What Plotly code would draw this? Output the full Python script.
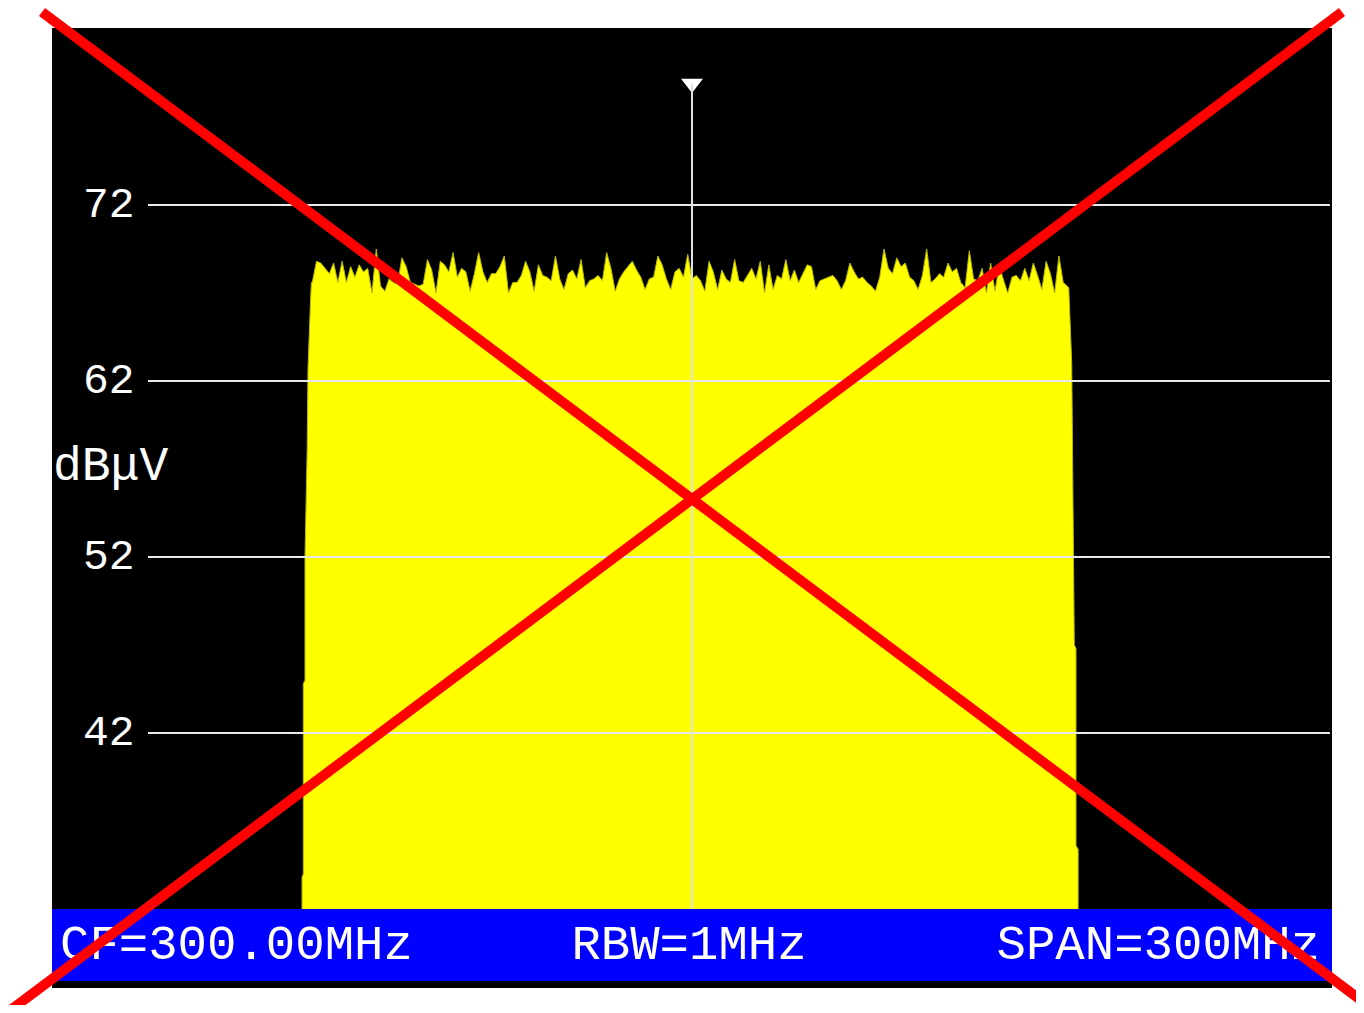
import plotly.graph_objects as go

# ---------------- data ----------------
center_freq_mhz = 300.0
span_mhz = 300.0
rbw_label = "RBW=1MHz"
cf_label = "CF=300.00MHz"
span_label = "SPAN=300MHz"
unit_label = "dBμV"

y_ticks = [42, 52, 62, 72]

# spectrum flanks (MHz, dBμV)
left_edge_freq = [208.6, 208.6, 208.9, 208.9, 209.3, 209.3, 209.8, 210.0, 210.6, 210.8]
left_edge_level = [32.0, 33.8, 34.0, 44.8, 45.0, 52.0, 58.0, 62.7, 66.6, 67.6]
right_edge_freq = [388.3, 389.0, 389.5, 389.6, 390.0, 390.0, 390.5, 390.5]
right_edge_level = [67.3, 63.0, 52.0, 47.0, 46.8, 35.6, 35.4, 32.0]

# channel top, 1 MHz steps from 211 MHz
top_start_mhz = 211.0
top_step_mhz = 1.0
top_level = [
    67.6, 68.8, 68.7, 68.4, 68.1, 68.7, 67.6, 68.8, 67.6, 68.5,
    67.9, 68.6, 68.2, 68.4, 67.0, 69.5, 67.4, 67.1, 67.8, 67.6,
    67.5, 69.0, 68.5, 67.6, 67.5, 67.4, 67.5, 68.9, 68.3, 67.0,
    68.8, 68.6, 68.2, 69.3, 67.9, 68.4, 68.2, 67.1, 68.1, 69.3,
    68.2, 67.6, 68.1,
    68.1, 68.5, 69.1, 67.0, 67.6, 67.6, 68.0, 68.8, 68.2, 67.1,
    68.6, 68.0, 67.9, 67.7, 69.1, 67.8, 67.2, 68.1, 68.3, 67.8,
    68.9, 67.3, 67.7, 67.8, 68.0, 67.7, 69.3, 68.4, 67.1, 67.8,
    68.2, 68.5, 68.8, 68.3, 67.9, 67.2, 67.8, 67.9, 69.1, 68.6,
    67.8, 67.2, 68.2, 68.4, 67.9, 69.2,
    67.8, 68.0, 67.7, 67.1, 68.8, 68.2, 67.2, 68.3, 67.8, 67.6,
    68.9, 67.7, 67.6, 68.0, 68.4, 67.8, 68.8, 67.0, 68.6, 67.2,
    68.0, 67.8, 68.9, 67.7, 68.3, 67.6, 68.1, 68.6, 68.5, 67.2,
    67.7, 67.8, 67.9, 68.0, 67.7, 67.2, 67.7, 68.7, 68.2, 67.8,
    67.9, 67.6, 67.4, 67.1, 67.9, 69.5,
    68.4, 68.1, 69.0, 68.5, 68.7, 67.9, 67.7, 67.2, 68.0, 69.5,
    67.6, 67.8, 68.1, 67.9, 68.7, 68.2, 68.4, 67.6, 67.3, 69.4,
    67.8, 67.7, 68.4, 67.0, 68.7, 67.1, 68.5, 67.8, 67.0, 67.9,
    68.0, 67.7, 68.4, 67.7, 68.7, 68.0, 67.2, 68.8, 68.1, 67.0,
    69.1, 67.6,
]
marker_level = 78.9
floor_level = 32.0

# ---------------- figure ----------------
top_freq = [top_start_mhz + i * top_step_mhz for i in range(len(top_level))]
x_all = left_edge_freq + top_freq + right_edge_freq
y_all = left_edge_level + top_level + right_edge_level

x_min = center_freq_mhz - span_mhz / 2
x_max = center_freq_mhz + span_mhz / 2

# page geometry (body has 8px margin)
W, H = 1348, 997
L, R, T, B = 44, 24, 20, 17
plot_w = W - L - R  # 1280
plot_h = H - T - B  # 960
mhz_per_px = span_mhz / plot_w
db_per_px = 10 / 176.0


def px(page_x):
    return (page_x - 52) / plot_w


def py(page_y):
    return (988 - page_y) / plot_h


def fx(page_x):
    return x_min + (page_x - 52) * mhz_per_px


def fy(page_y):
    return 42 + (733 - page_y) * db_per_px


fig = go.Figure()

fig.add_trace(go.Scatter(
    x=x_all, y=y_all, mode="lines", fill="toself",
    fillcolor="#ffff00", line=dict(color="#b8b800", width=1),
    hoverinfo="skip", showlegend=False,
))

fig.add_trace(go.Scatter(
    x=[center_freq_mhz], y=[marker_level], mode="markers",
    marker=dict(symbol="triangle-down", size=19, color="white",
                line=dict(width=0)),
    hoverinfo="skip", showlegend=False,
))

mono = "Liberation Mono"
status_y = fy(947)
for label, xpos, pos in [(cf_label, fx(60), "middle right"),
                         (rbw_label, fx(689), "middle center"),
                         (span_label, fx(1320), "middle left")]:
    fig.add_trace(go.Scatter(
        x=[xpos], y=[status_y], mode="text", text=[label],
        textposition=pos, cliponaxis=False,
        textfont=dict(family=mono, size=49, color="white"),
        hoverinfo="skip", showlegend=False,
    ))

shapes = []
for v in y_ticks:
    shapes.append(dict(type="line", xref="paper", yref="y",
                       x0=px(148), x1=px(1330), y0=v, y1=v,
                       line=dict(color="#e8e8e8", width=2), layer="above"))
shapes.append(dict(type="line", xref="x", yref="y",
                   x0=center_freq_mhz, x1=center_freq_mhz,
                   y0=floor_level, y1=marker_level,
                   line=dict(color="#e0e0e0", width=2), layer="above"))
# status bar (below traces so its text stays visible)
shapes.append(dict(type="rect", xref="paper", yref="paper",
                   x0=0, x1=1, y0=py(981), y1=py(909),
                   fillcolor="#0000ff", line=dict(width=0), layer="below"))
# red cross
shapes.append(dict(type="line", xref="paper", yref="paper",
                   x0=px(42), y0=py(12), x1=px(1362), y1=py(1001),
                   line=dict(color="#ff0000", width=10), layer="above"))
shapes.append(dict(type="line", xref="paper", yref="paper",
                   x0=px(1342), y0=py(12), x1=px(12), y1=py(1009),
                   line=dict(color="#ff0000", width=10), layer="above"))

annotations = []
for v in y_ticks:
    annotations.append(dict(text=str(v), xref="paper", yref="y",
                            x=px(137), y=v, xanchor="right", yanchor="middle",
                            showarrow=False,
                            font=dict(family=mono, size=43, color="white")))
annotations.append(dict(text=unit_label, xref="paper", yref="paper",
                        x=px(51), y=py(467), xanchor="left", yanchor="middle",
                        showarrow=False,
                        font=dict(family=mono, size=48, color="white")))

y_bottom = fy(988)
y_top = fy(28)

fig.update_layout(
    width=W, height=H,
    margin=dict(l=L, r=R, t=T, b=B, pad=0),
    paper_bgcolor="white", plot_bgcolor="black",
    xaxis=dict(range=[x_min, x_max], showgrid=False, zeroline=False,
               showticklabels=False, ticks="", fixedrange=True),
    yaxis=dict(range=[y_bottom, y_top], showgrid=False, zeroline=False,
               showticklabels=False, ticks="", fixedrange=True),
    shapes=shapes, annotations=annotations, showlegend=False,
)

fig.write_html("out.html")
